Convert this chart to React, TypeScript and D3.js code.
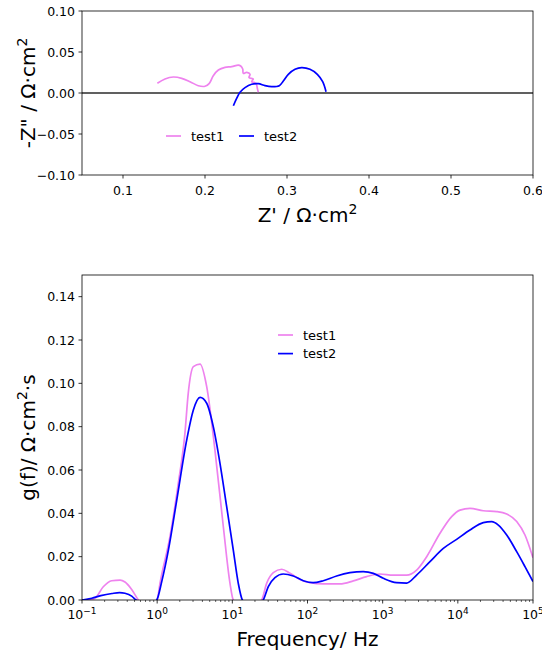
import React from "react";
import * as d3 from "d3";

// ---- Nyquist panel data ----
const nyqTest1X = [0.1419, 0.1512, 0.1614, 0.1716, 0.1817, 0.1918, 0.2, 0.2053, 0.2101, 0.2163, 0.2244, 0.2326, 0.2406, 0.2435, 0.246, 0.2467, 0.2508, 0.2549, 0.2537, 0.2589, 0.257, 0.2622, 0.2638, 0.265];
const nyqTest1Y = [0.0118, 0.0171, 0.0195, 0.0179, 0.0138, 0.0089, 0.0082, 0.0118, 0.0211, 0.028, 0.0313, 0.0321, 0.0341, 0.0329, 0.0293, 0.024, 0.0252, 0.0228, 0.0187, 0.0171, 0.0138, 0.0118, 0.0057, 0.0009];
const nyqTest2X = [0.2346, 0.2386, 0.2427, 0.2488, 0.2569, 0.265, 0.2732, 0.2813, 0.2906, 0.2955, 0.3016, 0.3098, 0.3179, 0.328, 0.337, 0.3435, 0.3476];
const nyqTest2Y = [-0.0155, -0.0065, 0.0009, 0.0065, 0.0106, 0.0114, 0.0089, 0.0077, 0.0089, 0.0146, 0.0228, 0.0289, 0.0309, 0.0289, 0.0228, 0.0138, 0.0016];
const nyqXTicks = [0.1, 0.2, 0.3, 0.4, 0.5, 0.6];
const nyqXTickLabels = ["0.1", "0.2", "0.3", "0.4", "0.5", "0.6"];
const nyqYTicks = [-0.1, -0.05, 0, 0.05, 0.1];
const nyqYTickLabels = ["\u22120.10", "\u22120.05", "0.00", "0.05", "0.10"];

// ---- DRT panel data (frequency in Hz, g in Ω·cm²·s) ----
const drtTest1F = [0.1, 0.126, 0.149, 0.192, 0.248, 0.321, 0.373, 0.458, 0.562, 0.708, 0.891, 1.0, 1.09, 1.48, 1.91, 2.34, 2.59, 3.03, 3.72, 4.56, 5.87, 7.59, 9.31, 10.3, 15.8, 24.5, 28.6, 35.1, 45.4, 58.5, 79.4, 108, 162, 270, 407, 612, 920, 1380, 2080, 2830, 3850, 5790, 8280, 10700, 14500, 21800, 32900, 44700, 60700, 78200, 100000];
const drtTest1G = [0, 0.0001, 0.0008, 0.0061, 0.0089, 0.0092, 0.0083, 0.0049, 0, -0.004, -0.002, 0, 0.0077, 0.0292, 0.0538, 0.0769, 0.0954, 0.1077, 0.1089, 0.0985, 0.0692, 0.0338, 0.0077, 0, -0.004, 0, 0.0077, 0.0126, 0.0142, 0.0123, 0.0095, 0.008, 0.0074, 0.0074, 0.0088, 0.0108, 0.012, 0.0115, 0.0115, 0.0138, 0.02, 0.0308, 0.0385, 0.0415, 0.0423, 0.0412, 0.0408, 0.0397, 0.0362, 0.03, 0.0195];
const drtTest2F = [0.1, 0.135, 0.178, 0.251, 0.316, 0.373, 0.458, 0.522, 0.708, 0.986, 1.15, 1.41, 1.82, 2.47, 3.03, 3.72, 4.56, 5.58, 6.85, 8.41, 10.3, 12.0, 13.6, 18.6, 25.8, 30.1, 36.9, 47.6, 64.7, 87.9, 119, 162, 244, 367, 552, 750, 1020, 1530, 2080, 2830, 4260, 6410, 9640, 14500, 21800, 28200, 34600, 44700, 60700, 78200, 100000];
const drtTest2G = [0, 0.0008, 0.002, 0.003, 0.0034, 0.0031, 0.0018, 0, -0.003, 0, 0.0085, 0.023, 0.046, 0.0738, 0.0877, 0.0935, 0.0908, 0.08, 0.0631, 0.0431, 0.023, 0.0077, 0, -0.004, 0, 0.0062, 0.0103, 0.012, 0.0111, 0.0089, 0.008, 0.0089, 0.0111, 0.0126, 0.0131, 0.0123, 0.01, 0.008, 0.0078, 0.0115, 0.0177, 0.0238, 0.028, 0.0323, 0.0357, 0.0362, 0.0346, 0.03, 0.0223, 0.0154, 0.0085];
const drtYTicks = [0, 0.02, 0.04, 0.06, 0.08, 0.1, 0.12, 0.14];
const drtYTickLabels = ["0.00", "0.02", "0.04", "0.06", "0.08", "0.10", "0.12", "0.14"];
const drtXExponents = ["\u22121", "0", "1", "2", "3", "4", "5"];

const seriesNames = ["test1", "test2"];
const seriesColors = ["#EE82EE", "#0000FF"];

const FONT = "DejaVu Sans, sans-serif";
const TICK_FS = 12.5;
const LABEL_FS = 20;

export default function App() {
  // top panel
  const t = { left: 82, right: 533, top: 11, bottom: 175 };
  const xN = d3.scaleLinear().domain([0.05, 0.6]).range([t.left, t.right]);
  const yN = d3.scaleLinear().domain([-0.1, 0.1]).range([t.bottom, t.top]);
  const lineN = d3
    .line<[number, number]>()
    .x((d) => xN(d[0]))
    .y((d) => yN(d[1]))
    .curve(d3.curveCatmullRom.alpha(0.5));
  const n1 = nyqTest1X.map((x, i) => [x, nyqTest1Y[i]] as [number, number]);
  const n2 = nyqTest2X.map((x, i) => [x, nyqTest2Y[i]] as [number, number]);

  // bottom panel
  const b = { left: 82, right: 533, top: 275, bottom: 600 };
  const xD = d3.scaleLog().domain([0.1, 1e5]).range([b.left, b.right]);
  const yD = d3.scaleLinear().domain([0, 0.15]).range([b.bottom, b.top]);
  const lineD = d3
    .line<[number, number]>()
    .x((d) => xD(d[0]))
    .y((d) => yD(d[1]))
    .curve(d3.curveMonotoneX);
  const d1 = drtTest1F.map((f, i) => [f, drtTest1G[i]] as [number, number]);
  const d2 = drtTest2F.map((f, i) => [f, drtTest2G[i]] as [number, number]);

  const majors = d3.range(-1, 6).map((e) => Math.pow(10, e));
  const minors: number[] = [];
  for (let e = -1; e < 5; e++) {
    for (let m = 2; m <= 9; m++) minors.push(m * Math.pow(10, e));
  }

  return (
    <svg
      width={542}
      height={655}
      style={{ position: "absolute", left: 0, top: 0, background: "#fff" }}
      fontFamily={FONT}
    >
      <defs>
        <clipPath id="clipTop">
          <rect x={t.left} y={t.top} width={t.right - t.left} height={t.bottom - t.top} />
        </clipPath>
        <clipPath id="clipBot">
          <rect x={b.left} y={b.top} width={b.right - b.left} height={b.bottom - b.top} />
        </clipPath>
      </defs>

      {/* ---------- TOP PANEL ---------- */}
      <g clipPath="url(#clipTop)">
        <line x1={xN(0.05)} x2={xN(0.6)} y1={yN(0)} y2={yN(0)} stroke="#606060" strokeWidth={2} />
        <path d={lineN(n1) || ""} fill="none" stroke={seriesColors[0]} strokeWidth={1.7} />
        <path d={lineN(n2) || ""} fill="none" stroke={seriesColors[1]} strokeWidth={1.7} />
      </g>
      <rect x={t.left} y={t.top} width={t.right - t.left} height={t.bottom - t.top} fill="none" stroke="#000" strokeWidth={0.8} />
      {nyqXTicks.map((v, i) => (
        <g key={"nx" + i}>
          <line x1={xN(v)} x2={xN(v)} y1={t.bottom} y2={t.bottom + 3.5} stroke="#000" strokeWidth={0.8} />
          <text x={xN(v)} y={t.bottom + 19.5} fontSize={TICK_FS} textAnchor="middle" fill="#000">
            {nyqXTickLabels[i]}
          </text>
        </g>
      ))}
      {nyqYTicks.map((v, i) => (
        <g key={"ny" + i}>
          <line x1={t.left - 3.5} x2={t.left} y1={yN(v)} y2={yN(v)} stroke="#000" strokeWidth={0.8} />
          <text x={t.left - 7} y={yN(v) + 4.5} fontSize={TICK_FS} textAnchor="end" fill="#000">
            {nyqYTickLabels[i]}
          </text>
        </g>
      ))}
      <text x={(t.left + t.right) / 2} y={222} fontSize={LABEL_FS} textAnchor="middle" fill="#000">
        Z' / Ω·cm<tspan fontSize={14} dy={-8}>2</tspan>
      </text>
      <text transform={`translate(35,${(t.top + t.bottom) / 2}) rotate(-90)`} fontSize={LABEL_FS} textAnchor="middle" fill="#000">
        -Z" / Ω·cm<tspan fontSize={14} dy={-8}>2</tspan>
      </text>
      {/* top legend */}
      {seriesNames.map((name, i) => {
        const x0 = i === 0 ? 166 : 239;
        return (
          <g key={"lt" + i}>
            <line x1={x0} x2={x0 + 15} y1={136} y2={136} stroke={seriesColors[i]} strokeWidth={1.7} />
            <text x={x0 + 25} y={140.5} fontSize={13} fill="#000">
              {name}
            </text>
          </g>
        );
      })}

      {/* ---------- BOTTOM PANEL ---------- */}
      <g clipPath="url(#clipBot)">
        <path d={lineD(d1) || ""} fill="none" stroke={seriesColors[0]} strokeWidth={1.7} />
        <path d={lineD(d2) || ""} fill="none" stroke={seriesColors[1]} strokeWidth={1.7} />
      </g>
      <rect x={b.left} y={b.top} width={b.right - b.left} height={b.bottom - b.top} fill="none" stroke="#000" strokeWidth={0.8} />
      {minors.map((v, i) => (
        <line key={"mn" + i} x1={xD(v)} x2={xD(v)} y1={b.bottom} y2={b.bottom + 2} stroke="#000" strokeWidth={0.6} />
      ))}
      {majors.map((v, i) => (
        <g key={"dx" + i}>
          <line x1={xD(v)} x2={xD(v)} y1={b.bottom} y2={b.bottom + 3.5} stroke="#000" strokeWidth={0.8} />
          <text x={xD(v)} y={b.bottom + 19} fontSize={TICK_FS} textAnchor="middle" fill="#000">
            10<tspan fontSize={9} dy={-5}>{drtXExponents[i]}</tspan>
          </text>
        </g>
      ))}
      {drtYTicks.map((v, i) => (
        <g key={"dy" + i}>
          <line x1={b.left - 3.5} x2={b.left} y1={yD(v)} y2={yD(v)} stroke="#000" strokeWidth={0.8} />
          <text x={b.left - 7} y={yD(v) + 4.5} fontSize={TICK_FS} textAnchor="end" fill="#000">
            {drtYTickLabels[i]}
          </text>
        </g>
      ))}
      <text x={(b.left + b.right) / 2} y={646} fontSize={LABEL_FS} textAnchor="middle" fill="#000">
        Frequency/ Hz
      </text>
      <text transform={`translate(35,${(b.top + b.bottom) / 2}) rotate(-90)`} fontSize={LABEL_FS} textAnchor="middle" fill="#000">
        g(f)/ Ω·cm<tspan fontSize={14} dy={-8}>2</tspan>
        <tspan dy={8}>·s</tspan>
      </text>
      {/* bottom legend */}
      {seriesNames.map((name, i) => {
        const y0 = 335 + i * 18.6;
        return (
          <g key={"lb" + i}>
            <line x1={278} x2={293} y1={y0} y2={y0} stroke={seriesColors[i]} strokeWidth={1.7} />
            <text x={303} y={y0 + 4.5} fontSize={13} fill="#000">
              {name}
            </text>
          </g>
        );
      })}
    </svg>
  );
}
